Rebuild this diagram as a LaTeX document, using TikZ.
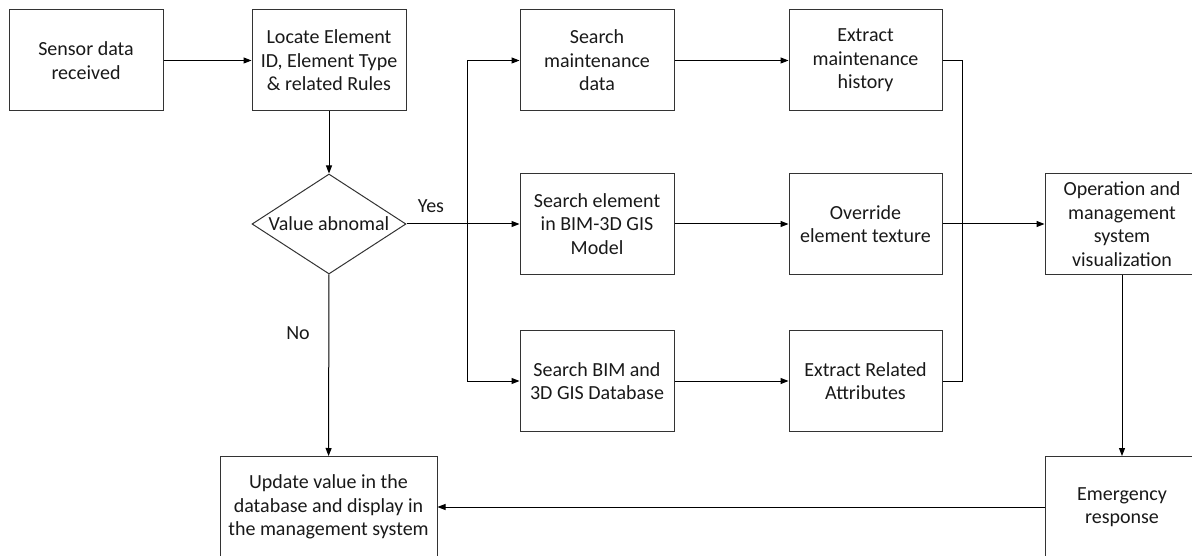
\documentclass[tikz,border=0pt]{standalone}
\usepackage{fontspec}
\setmainfont{Carlito}
\usetikzlibrary{arrows.meta,shapes.geometric}
\begin{document}
\begin{tikzpicture}[x=1pt,y=-1pt,
  txt/.style={font=\fontsize{20}{23.5}\selectfont, text=black!90},
  box/.style={txt, draw=black!80, line width=1pt, minimum width=154pt, minimum height=101pt, inner sep=0pt, align=center},
  dec/.style={txt, diamond, draw=black!80, line width=1pt, minimum width=154pt, minimum height=100pt, inner sep=0pt},
  conn/.style={draw=black, line width=1pt},
  arr/.style={conn, -{Triangle[length=8pt,width=6pt]}}]
\useasboundingbox (0,0) rectangle (1192,556);
\clip (0,0) rectangle (1192,556);

\node[box] (sensor) at (86,60.5) {Sensor data\\received};
\node[box] (locate) at (329,60.5) {Locate Element\\ID, Element Type\\\& related Rules};
\node[dec] (dec) at (329,224) {\makebox[0pt]{Value abnomal}};
\node[box] (smaint) at (597,60.5) {Search\\maintenance\\data};
\node[box] (selem) at (597,224) {Search element\\in BIM-3D GIS\\Model};
\node[box] (sdb) at (597,381) {Search BIM and\\3D GIS Database};
\node[box, minimum width=153pt] (emaint) at (865.5,60.5) {Extract\\maintenance\\history};
\node[box, minimum width=153pt] (over) at (865.5,224) {Override\\element texture};
\node[box, minimum width=153pt] (erel) at (865.5,381) {Extract Related\\Attributes};
\node[box] (oper) at (1122,224) {Operation and\\management\\system\\visualization};
\node[box] (emerg) at (1122,507) {Emergency\\response};
\node[box, minimum width=217pt] (update) at (328.5,507) {Update value in the\\database and display in\\the management system};

\node[txt] (yes) at (431,206) {Yes};
\node[txt] (no) at (298,333) {No};

\coordinate (bx) at (467,224);
\coordinate (mx) at (962,224);

\draw[arr] (sensor) -- (locate);
\draw[arr] (locate) -- (dec);
\draw[arr] (dec.east) -- (selem.west);
\draw[arr] (bx) |- (smaint.west);
\draw[arr] (bx) |- (sdb.west);
\draw[arr] (smaint) -- (emaint);
\draw[arr] (selem) -- (over);
\draw[arr] (sdb) -- (erel);
\draw[conn] (emaint.east) -| (mx);
\draw[conn] (erel.east) -| (mx);
\draw[arr] (over.east) -- (oper.west);
\draw[arr] (oper) -- (emerg);
\draw[arr] (emerg) -- (update);
\draw[arr] (dec) -- (update);
\end{tikzpicture}
\end{document}
